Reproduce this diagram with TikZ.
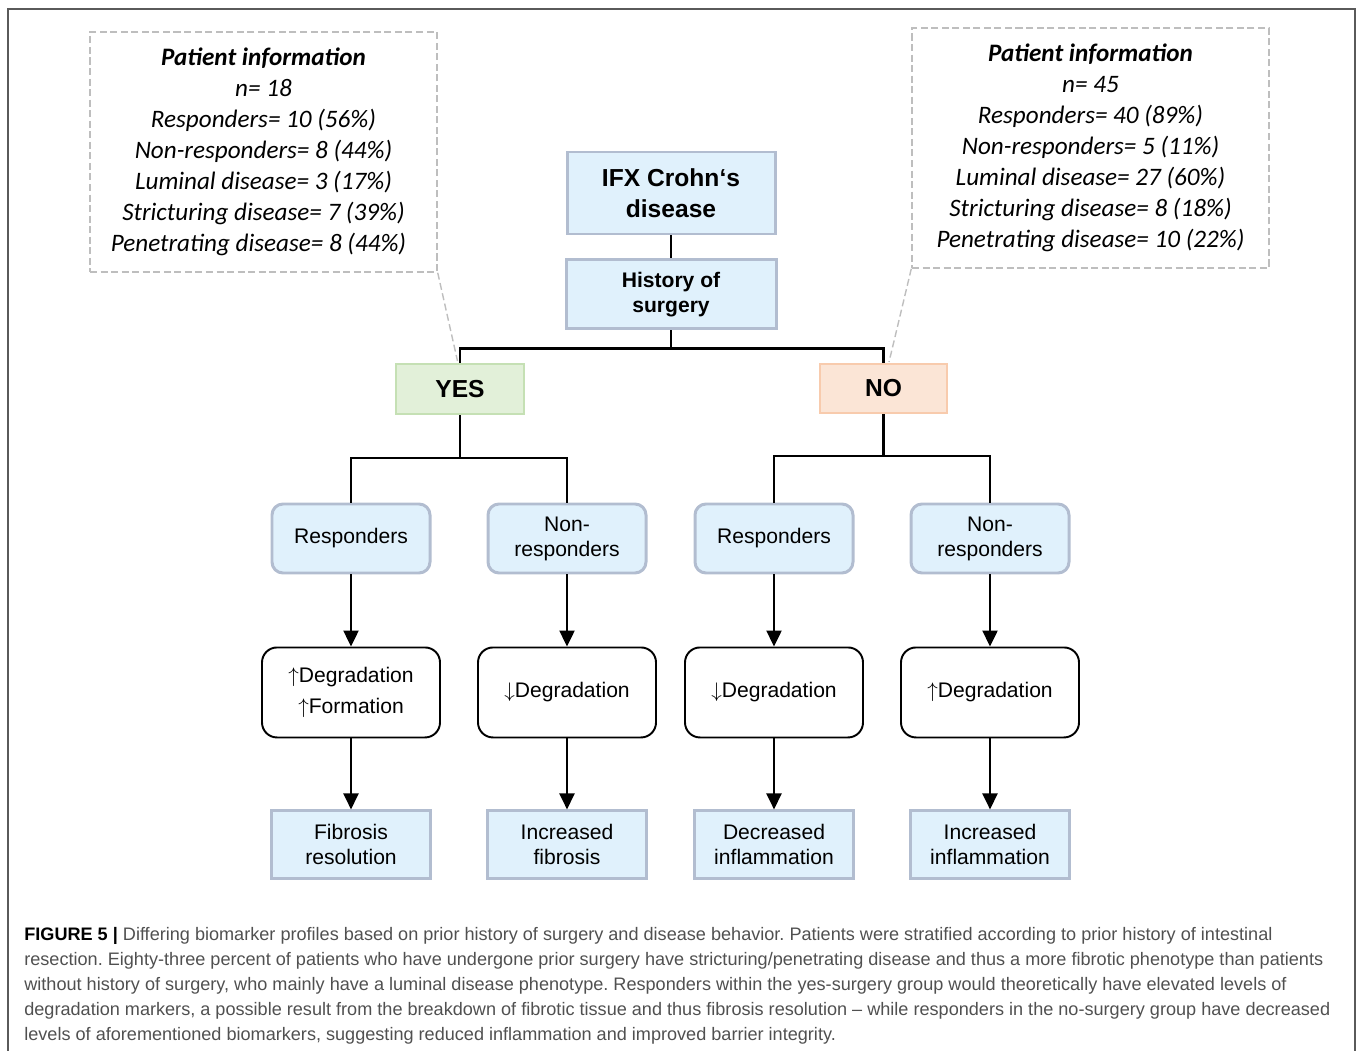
\documentclass[tikz,border=0pt]{standalone}
\usepackage{fontspec}
\setmainfont{Liberation Sans}
\newfontfamily\calibri{Carlito}
\usetikzlibrary{positioning}
\usetikzlibrary{arrows.meta}
\definecolor{boxblue}{RGB}{224,241,252}
\definecolor{edgeblue}{RGB}{178,189,208}
\definecolor{yesfill}{RGB}{226,240,217}
\definecolor{yesedge}{RGB}{197,224,180}
\definecolor{nofill}{RGB}{251,229,214}
\definecolor{noedge}{RGB}{248,203,173}
\definecolor{callgray}{RGB}{190,190,190}
\definecolor{capgray}{RGB}{80,80,80}
\definecolor{framegray}{RGB}{90,90,90}
\tikzset{
  bluebox/.style={draw=edgeblue, fill=boxblue, line width=1.7pt, align=center, inner sep=0pt},
  headbox/.style={bluebox, font=\bfseries\fontsize{14}{17.6}\selectfont},
  yesbox/.style={draw=yesedge, fill=yesfill, line width=1.2pt, minimum width=2.56cm, minimum height=1cm, font=\bfseries\fontsize{14}{17.6}\selectfont},
  nobox/.style={draw=noedge, fill=nofill, line width=1.2pt, minimum width=2.54cm, minimum height=0.98cm, font=\bfseries\fontsize{14}{17.6}\selectfont},
  respbox/.style={bluebox, rounded corners=0.22cm, minimum width=3.16cm, minimum height=1.38cm, font=\fontsize{12}{14.2}\selectfont},
  degbox/.style={draw=black, fill=white, line width=1.1pt, rounded corners=0.3cm, align=center, inner sep=0pt, minimum width=3.56cm, minimum height=1.8cm, font=\fontsize{12}{17.6}\selectfont},
  outbox/.style={bluebox, minimum width=3.18cm, minimum height=1.36cm, font=\fontsize{12}{14.2}\selectfont},
  infobox/.style={draw=callgray, line width=0.8pt, dash pattern=on 4pt off 2pt, align=center, minimum height=4.8cm, font=\calibri\itshape\fontsize{14.3}{17.6}\selectfont},
  tree/.style={draw=black, line width=1.2pt},
  arr/.style={draw=black, line width=1.4pt, -{Triangle[width=0.3cm,length=0.32cm]}},
  callout/.style={draw=callgray, line width=0.8pt, dash pattern=on 4pt off 2pt},
  caption/.style={align=left, inner sep=0pt, text=capgray, font=\frenchspacing\fontsize{10.3}{14.2}\selectfont}
}

\begin{document}
\begin{tikzpicture}
    \useasboundingbox (0,0) rectangle (27.14,-21.02);
    \draw[framegray, line width=0.7pt] (0.16,-21.2) -- (0.16,-0.18) -- (27.1,-0.18) -- (27.1,-21.2);

    % top of the tree
    \node[headbox, minimum width=4.16cm, minimum height=1.64cm] (IFX) at (13.42,-3.86) {IFX Crohn‘s\\disease};
    \node[headbox, minimum width=4.2cm, minimum height=1.38cm, font=\bfseries\fontsize{12}{14.2}\selectfont, below=0.46cm of IFX] (Hist) {History of\\surgery};
    \node[yesbox] (Yes) at (9.2,-7.78) {YES};
    \node[nobox] (No) at (17.67,-7.77) {NO};

    % responders
    \node[respbox] (Ry) at (7.02,-10.77) {Responders};
    \node[respbox] (Ny) at (11.34,-10.77) {Non-\\responders};
    \node[respbox] (Rn) at (15.48,-10.77) {Responders};
    \node[respbox] (Nn) at (19.8,-10.77) {Non-\\responders};

    % markers
    \node[degbox, below=1.44cm of Ry] (Dry) {$\uparrow$Degradation\\$\uparrow$Formation};
    \node[degbox, below=1.44cm of Ny] (Dny) {$\downarrow$Degradation};
    \node[degbox, below=1.44cm of Rn] (Drn) {$\downarrow$Degradation};
    \node[degbox, below=1.44cm of Nn] (Dnn) {$\uparrow$Degradation};

    % outcome
    \node[outbox, below=1.42cm of Dry] (Ory) {Fibrosis\\resolution};
    \node[outbox, below=1.42cm of Dny] (Ony) {Increased\\fibrosis};
    \node[outbox, below=1.42cm of Drn] (Orn) {Decreased\\inflammation};
    \node[outbox, below=1.42cm of Dnn] (Onn) {Increased\\inflammation};

    % patient info
    \node[infobox, minimum width=6.94cm] (InfoY) at (5.27,-3.04) {\textbf{Patient information}\\n= 18\\Responders= 10 (56\%)\\Non-responders= 8 (44\%)\\Luminal disease= 3 (17\%)\\Stricturing disease= 7 (39\%)\\Penetrating disease= 8 (44\%)\hspace*{0.2cm}};
    \node[infobox, minimum width=7.14cm] (InfoN) at (21.81,-2.96) {\textbf{Patient information}\\n= 45\\Responders= 40 (89\%)\\Non-responders= 5 (11\%)\\Luminal disease= 27 (60\%)\\Stricturing disease= 8 (18\%)\\Penetrating disease= 10 (22\%)};
    \coordinate (YesTip) at (9.15,-7.22);
    \coordinate (NoTip) at (17.78,-7.24);

    \draw[tree] (IFX) -- (Hist);
    \draw[tree] (Hist.south) -- ++(0,-0.36) -| (Yes.north);
    \draw[tree] (Hist.south) -- ++(0,-0.36) -| (No.north);
    \draw[tree] (Yes.south) -- ++(0,-0.86) -| (Ry.north);
    \draw[tree] (Yes.south) -- ++(0,-0.86) -| (Ny.north);
    \draw[tree] (No.south) -- ++(0,-0.84) -| (Rn.north);
    \draw[tree] (No.south) -- ++(0,-0.84) -| (Nn.north);
    \draw[callout] (InfoY.south east) -- (YesTip);
    \draw[callout] (InfoN.south west) -- (NoTip);

    \draw[arr] (Ry) edge (Dry) (Ny) edge (Dny) (Rn) edge (Drn) (Nn) edge (Dnn);
    \draw[arr] (Dry) edge (Ory) (Dny) edge (Ony) (Drn) edge (Orn) (Dnn) edge (Onn);

    % caption
    \node[caption, anchor=north west] (Cap) at (0.48,-18.55) {{\color{black}\textbf{FIGURE 5 |}} Differing biomarker profiles based on prior history of surgery and disease behavior. Patients were stratified according to prior history of intestinal\\resection. Eighty-three percent of patients who have undergone prior surgery have stricturing/penetrating disease and thus a more fibrotic phenotype than patients\\without history of surgery, who mainly have a luminal disease phenotype. Responders within the yes-surgery group would theoretically have elevated levels of\\degradation markers, a possible result from the breakdown of fibrotic tissue and thus fibrosis resolution -- while responders in the no-surgery group have decreased\\levels of aforementioned biomarkers, suggesting reduced inflammation and improved barrier integrity.};
\end{tikzpicture}
\end{document}
